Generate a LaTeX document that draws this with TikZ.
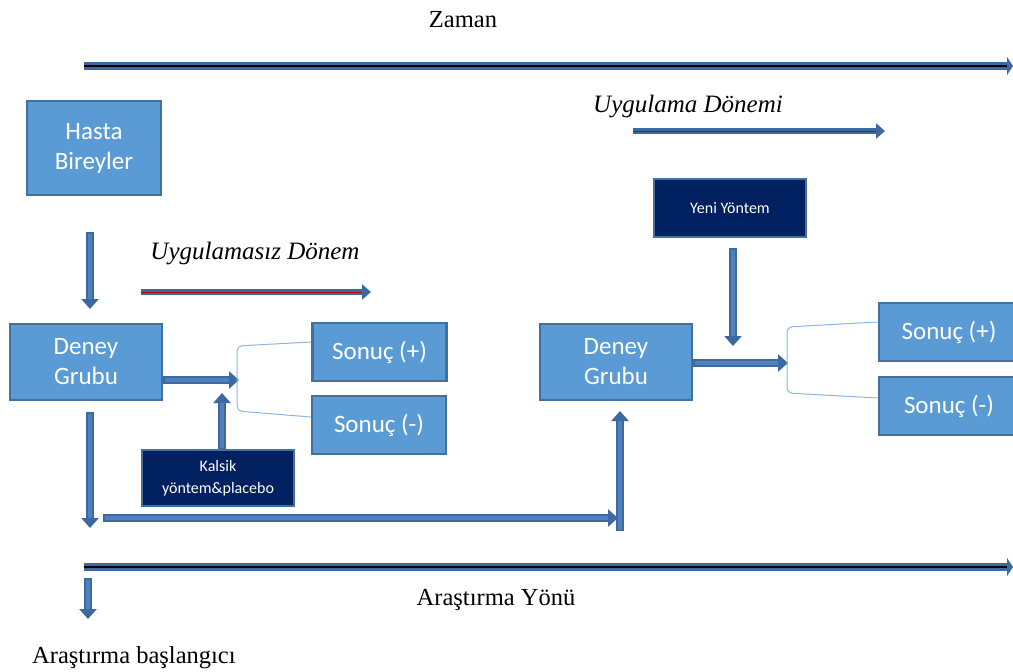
\documentclass[tikz,border=0pt]{standalone}
\usepackage{fontspec}
\setmainfont{Liberation Serif}
\newfontfamily\boxfont{Carlito}
\usetikzlibrary{arrows.meta,calc}
\definecolor{boxfill}{RGB}{91,155,213}
\definecolor{boxborder}{RGB}{65,113,156}
\definecolor{navy}{RGB}{0,32,96}
\definecolor{arrowblue}{RGB}{79,129,189}
\definecolor{arrowdark}{RGB}{60,106,160}
\definecolor{brk}{RGB}{141,180,226}
\definecolor{redline}{RGB}{192,0,0}
\tikzset{
  bluebox/.style={draw=boxborder, line width=2.5pt, fill=boxfill, text=white, inner sep=0pt,
    font=\boxfont\fontsize{25}{30}\selectfont, align=center},
  navybox/.style={draw=boxborder, line width=2pt, fill=navy, text=white, inner sep=0pt,
    font=\boxfont\fontsize{16}{22}\selectfont, align=center},
  blockarrow/.style={draw=arrowdark, line width=7.5pt, -{Triangle[length=10pt,width=17pt]}},
  inner/.style={draw=arrowblue, line width=3.5pt},
  longarrow/.style={draw=arrowdark, line width=8pt, -{Triangle[length=6pt,width=18pt]}},
  periodarrow/.style={draw=arrowdark, line width=6.5pt, -{Triangle[length=9pt,width=15pt]}},
  bracket/.style={draw=brk, line width=1pt, rounded corners=5pt},
  lbl/.style={font=\fontsize{24.5}{29}\selectfont, inner sep=0pt},
  ilbl/.style={font=\itshape\fontsize{25}{29}\selectfont, inner sep=0pt}
}
\begin{document}
\begin{tikzpicture}[x=1pt,y=-1pt]
\useasboundingbox (0,0) rectangle (1013,672);
\clip (0,0) rectangle (1013,672);

% texts
\node[lbl] (zaman) at (463,20) {Zaman};
\node[ilbl] (uyg0) at (255,254) {Uygulamasız Dönem};
\node[ilbl] (uyg1) at (688,107) {Uygulama Dönemi};
\node[lbl] (yon) at (496,600) {Araştırma Yönü};
\node[lbl, anchor=west] (bas) at (32,658) {Araştırma başlangıcı};

% boxes
\node[bluebox, minimum width=134pt, minimum height=94pt] (hasta) at (94,148) {Hasta\\Bireyler};
\node[bluebox, minimum width=152pt, minimum height=76pt] (deneyL) at (86,362) {Deney\\Grubu};
\node[bluebox, minimum width=134pt, minimum height=58pt] (spL) at (379.5,352) {Sonuç (+)};
\node[bluebox, minimum width=134pt, minimum height=58pt] (smL) at (379,425) {Sonuç (-)};
\node[navybox, minimum width=152pt, minimum height=56pt] (kalsik) at (218,478) {Kalsik\\yöntem\&placebo};
\node[bluebox, minimum width=152pt, minimum height=76pt] (deneyR) at (616,362) {Deney\\Grubu};
\node[navybox, minimum width=152pt, minimum height=58pt] (yeni) at (730,208) {Yeni Yöntem};
\node[bluebox, minimum width=140pt, minimum height=58pt] (spR) at (949,332) {Sonuç (+)};
\node[bluebox, minimum width=140pt, minimum height=58pt] (smR) at (949,406) {Sonuç (-)};

% coordinates
\coordinate (t0) at (84,66);  \coordinate (t1) at (1013,66);
\coordinate (b0) at (84,567); \coordinate (b1) at (1013,567);
\coordinate (p0) at (141,292); \coordinate (p1) at (371,292);
\coordinate (q0) at (633,131); \coordinate (q1) at (885,131);
\coordinate (h0) at (90,232);  \coordinate (h1) at (90,309);
\coordinate (d0) at (90,412);  \coordinate (d1) at (90,528);
\coordinate (r0) at (103,518); \coordinate (r1) at (618,518);
\coordinate (u0) at (620,531); \coordinate (u1) at (620,411);
\coordinate (s0) at (88,578);  \coordinate (s1) at (88,619);
\coordinate (jL) at (239,380);
\coordinate (kL) at (222,393);
\coordinate (jR) at (788,363);
\coordinate (kR) at (733,346);
\coordinate (yt) at (733,248);

% long arrows
\draw[longarrow] (t0) -- (t1);
\draw[black, line width=2pt] (t0) -- ($(t1)+(-6,0)$);
\draw[longarrow] (b0) -- (b1);
\draw[black, line width=2pt] (b0) -- ($(b1)+(-6,0)$);

% period arrows
\draw[periodarrow] (p0) -- (p1);
\draw[redline, line width=1pt] (p0) -- ($(p1)+(-9,0)$);
\draw[periodarrow] (q0) -- (q1);
\draw[redline, line width=1pt] (q0) -- ($(q1)+(-9,0)$);

% block arrows
\draw[blockarrow] (h0) -- (h1);
\draw[inner] ($(h0)+(0,1.5)$) -- ($(h1)+(0,-10)$);
\draw[blockarrow] (d0) -- (d1);
\draw[inner] ($(d0)+(0,1.5)$) -- ($(d1)+(0,-10)$);
\draw[blockarrow] (r0) -- (r1);
\draw[inner] ($(r0)+(1.5,0)$) -- ($(r1)+(-10,0)$);
\draw[blockarrow] (u0) -- (u1);
\draw[inner] ($(u0)+(0,-1.5)$) -- ($(u1)+(0,10)$);
\draw[blockarrow] (s0) -- (s1);
\draw[inner] ($(s0)+(0,1.5)$) -- ($(s1)+(0,-10)$);
\draw[blockarrow] (deneyL.east |- jL) -- (jL);
\draw[inner] ($(deneyL.east |- jL)+(1.5,0)$) -- ($(jL)+(-10,0)$);
\draw[blockarrow] (kalsik.north -| kL) -- (kL);
\draw[inner] ($(kalsik.north -| kL)+(0,-1.5)$) -- ($(kL)+(0,10)$);
\draw[blockarrow] (deneyR.east |- jR) -- (jR);
\draw[inner] ($(deneyR.east |- jR)+(1.5,0)$) -- ($(jR)+(-10,0)$);
\draw[blockarrow] (yt) -- (kR);
\draw[inner] ($(yt)+(0,1.5)$) -- ($(kR)+(0,-10)$);

% brackets
\draw[bracket] (spL.west |- 0,342) -- (237,346) -- (237,411) -- (smL.west |- 0,417);
\draw[bracket] (spR.west |- 0,322) -- (787,327) -- (787,393) -- (smR.west |- 0,398);
\end{tikzpicture}
\end{document}
